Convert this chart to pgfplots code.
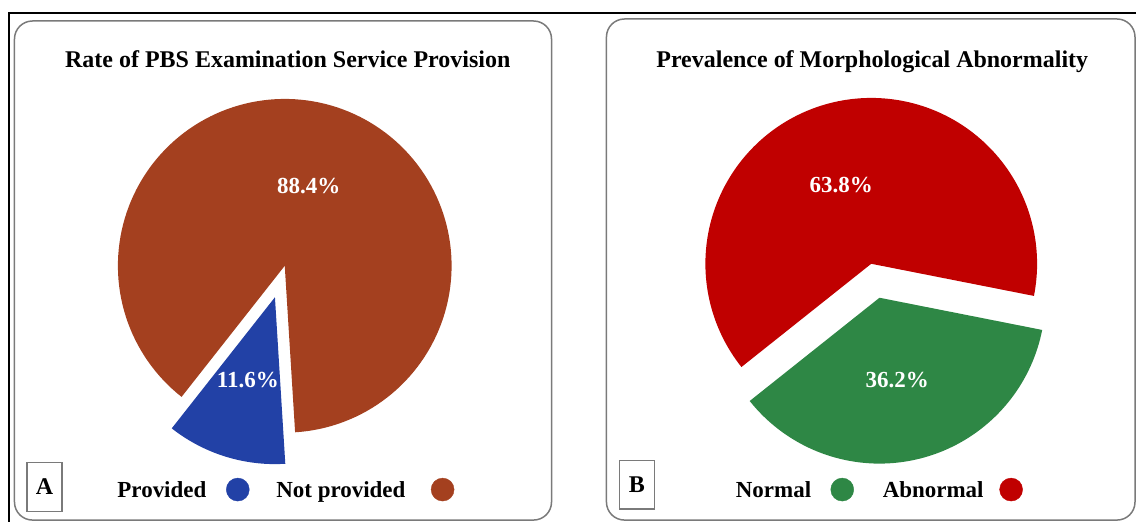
\documentclass[border=0pt]{standalone}
\usepackage{pgfplots}
\pgfplotsset{compat=1.18}
\usepackage{fontspec}
\setmainfont{Liberation Serif}

\definecolor{rustC}{HTML}{A4401F}
\definecolor{blueC}{HTML}{2241A6}
\definecolor{redC}{HTML}{C00000}
\definecolor{greenC}{HTML}{2E8745}
\definecolor{frameC}{HTML}{7A7A7A}

% shares (percent)
\def\valProvided{11.6}
\def\valNotProvided{88.4}
\def\valNormal{36.2}
\def\valAbnormal{63.8}

% panel A geometry (pixels, y downwards)
\def\cxA{285}\def\cyA{266}\def\rA{167}
\pgfmathsetmacro{\sA}{231.8}
\pgfmathsetmacro{\eA}{\sA+3.6*\valProvided}
\pgfmathsetmacro{\mA}{(\sA+\eA)/2}
\pgfmathsetmacro{\bxA}{\cxA+33*cos(\mA)}
\pgfmathsetmacro{\byA}{\cyA-33*sin(\mA)}
\pgfmathsetmacro{\fA}{\eA+3.6*\valNotProvided}

% panel B geometry
\def\cxB{872}\def\cyB{264}\def\rB{166}
\pgfmathsetmacro{\sB}{218.5}
\pgfmathsetmacro{\eB}{\sB+3.6*\valNormal}
\pgfmathsetmacro{\mB}{(\sB+\eB)/2}
\pgfmathsetmacro{\bxB}{\cxB+35*cos(\mB)}
\pgfmathsetmacro{\byB}{\cyB-35*sin(\mB)}
\pgfmathsetmacro{\fB}{\eB+3.6*\valAbnormal}

\begin{document}
\begin{tikzpicture}
\begin{axis}[
  x=1pt, y=1pt, y dir=reverse,
  xmin=0, xmax=1137, ymin=0, ymax=522,
  hide axis, clip=false, scale only axis,
]
\draw[draw=none] (axis cs:0,0) rectangle (axis cs:1137,522);

% outer frame
\draw[black, line width=2pt] (axis cs:1137,13.5) -- (axis cs:9.5,13.5) -- (axis cs:9.5,522);

% panel frames
\draw[frameC, line width=1.5pt, rounded corners=18pt] (axis cs:14.5,21) rectangle (axis cs:552,520.5);
\draw[frameC, line width=1.5pt, rounded corners=18pt] (axis cs:607,19) rectangle (axis cs:1136,520.5);

% titles
\node[anchor=base, font=\bfseries\fontsize{24}{28}\selectfont] at (axis cs:288,68) {Rate of PBS Examination Service Provision};
\node[anchor=base, font=\bfseries\fontsize{24}{28}\selectfont] at (axis cs:873,68) {Prevalence of Morphological Abnormality};

% pie A
\addplot[fill=rustC, draw=none, domain=\eA:\fA, samples=150]
  ({\cxA+\rA*cos(x)}, {\cyA-\rA*sin(x)}) -- (axis cs:\cxA,\cyA) -- cycle;
\addplot[fill=blueC, draw=none, domain=\sA:\eA, samples=40]
  ({\bxA+\rA*cos(x)}, {\byA-\rA*sin(x)}) -- (axis cs:\bxA,\byA) -- cycle;

% pie B
\addplot[fill=redC, draw=none, domain=\eB:\fB, samples=150]
  ({\cxB+\rB*cos(x)}, {\cyB-\rB*sin(x)}) -- (axis cs:\cxB,\cyB) -- cycle;
\addplot[fill=greenC, draw=none, domain=\sB:\eB, samples=80]
  ({\bxB+\rB*cos(x)}, {\byB-\rB*sin(x)}) -- (axis cs:\bxB,\byB) -- cycle;

% slice labels
\tikzset{pct/.style={anchor=base, text=white, font=\bfseries\fontsize{23}{27}\selectfont}}
\node[pct] at (axis cs:309,194) {\valNotProvided\%};
\node[pct] at (axis cs:248,388) {\valProvided\%};
\node[pct] at (axis cs:842,193) {\valAbnormal\%};
\node[pct] at (axis cs:898,388) {\valNormal\%};

% legends
\tikzset{leg/.style={anchor=base west, font=\bfseries\fontsize{23}{27}\selectfont}}
\node[draw=frameC, line width=1.2pt, minimum width=35pt, minimum height=49pt, inner sep=0pt,
      font=\bfseries\fontsize{24}{28}\selectfont] at (axis cs:44.5,487.5) {A};
\node[leg] at (axis cs:114,498) {Provided};
\addplot[only marks, mark=*, mark size=11.5pt, blueC, mark options={draw=none}] coordinates {(238,490)};
\node[leg] at (axis cs:273,498) {Not provided};
\addplot[only marks, mark=*, mark size=11.5pt, rustC, mark options={draw=none}] coordinates {(443,490)};

\node[draw=frameC, line width=1.2pt, minimum width=35pt, minimum height=49pt, inner sep=0pt,
      font=\bfseries\fontsize{24}{28}\selectfont] at (axis cs:637.5,485) {B};
\node[leg] at (axis cs:733,498) {Normal};
\addplot[only marks, mark=*, mark size=11.5pt, greenC, mark options={draw=none}] coordinates {(843,490)};
\node[leg] at (axis cs:880,498) {Abnormal};
\addplot[only marks, mark=*, mark size=11.5pt, redC, mark options={draw=none}] coordinates {(1012,490)};
\end{axis}
\end{tikzpicture}
\end{document}
